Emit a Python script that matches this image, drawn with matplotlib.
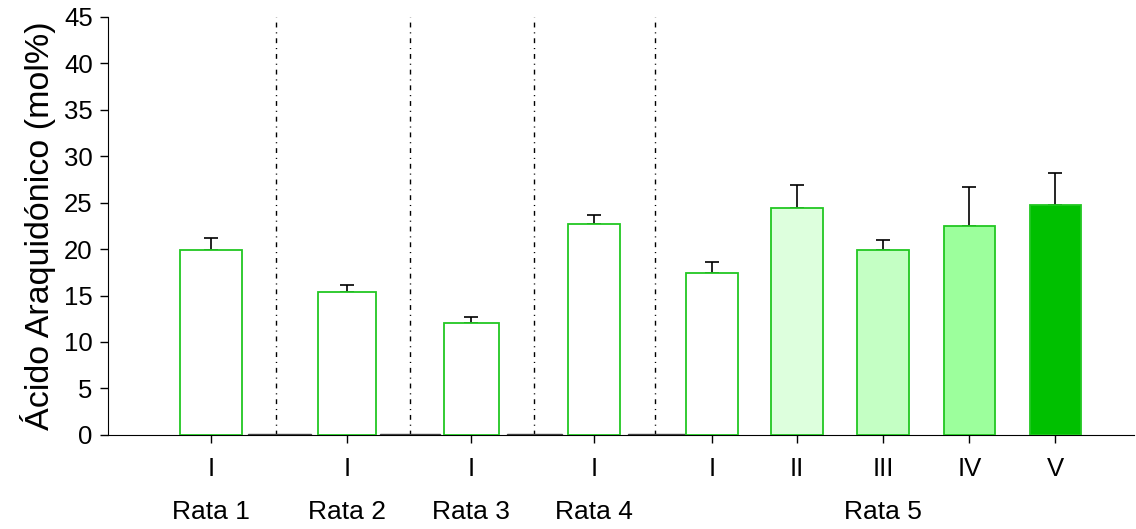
# araquidonico por rata y fraccion
import matplotlib
matplotlib.use('Agg')
from matplotlib import pyplot as plt
from matplotlib import transforms

plt.rcParams['font.family'] = ['Liberation Sans', 'DejaVu Sans']

# valores medios y error (mol%)
fracciones = ['I', 'I', 'I', 'I', 'I', 'II', 'III', 'IV', 'V']
valores = [19.9, 15.4, 12.05, 22.75, 17.4, 24.45, 19.85, 22.45, 24.75]
errores = [1.3, 0.7, 0.6, 0.9, 1.25, 2.4, 1.15, 4.2, 3.45]
ratas = ['Rata 1', 'Rata 2', 'Rata 3', 'Rata 4', 'Rata 5']
vacias = [0.1, 0.1, 0.1, 0.1]

# posiciones en el eje x
pos = [1.20, 2.78, 4.22, 5.65, 7.02, 8.01, 9.01, 10.01, 11.01]
anchos = [0.72, 0.67, 0.64, 0.60, 0.60, 0.60, 0.60, 0.60, 0.60]
rellenos = ['white', 'white', 'white', 'white', 'white',
            '#ddffdd', '#c4ffc4', '#9cff9c', '#00c000']
pos_ratas = [1.20, 2.78, 4.22, 5.65, 9.01]
separadores = [1.95, 3.51, 4.95, 6.36]
pos_vacias = [1.99, 3.51, 4.96, 6.37]
anchos_vacias = [0.73, 0.70, 0.64, 0.66]

fig = plt.figure(figsize=(11.36, 5.29), dpi=100)
ax = fig.add_axes([0.095, 0.178, 0.903, 0.790])

ax.bar(pos_vacias, vacias, width=anchos_vacias, color='none',
       edgecolor='#444444', linewidth=1.0, zorder=2)

ax.bar(pos, valores, width=anchos, color=rellenos, edgecolor='#22c722',
       linewidth=1.3, zorder=3)
ax.errorbar(pos, valores, yerr=[[0] * len(errores), errores], fmt='none',
            ecolor='black', elinewidth=1.2, capsize=4.7, capthick=1.2,
            zorder=2)

for x in separadores:
    ax.plot([x, x], [0, 45], color='black', linewidth=1.0,
            dashes=(3.5, 3.5, 0.8, 3.5), zorder=1)

ax.set_ylim(0, 45)
ax.set_xlim(0, 11.92)
ax.set_yticks(range(0, 46, 5))
ax.set_xticks(pos)
ax.set_xticklabels(fracciones)
ax.tick_params(axis='both', labelsize=18.5, length=6, width=1, direction='out')
ax.tick_params(axis='x', pad=10)
ax.tick_params(axis='y', pad=5)
ax.set_ylabel('Ácido Araquidónico (mol%)', fontsize=24.5, labelpad=6)

for s in ['top', 'right']:
    ax.spines[s].set_visible(False)

trans = transforms.blended_transform_factory(ax.transData, ax.transAxes)
for x, nombre in zip(pos_ratas, ratas):
    ax.text(x, -0.185, nombre, transform=trans, ha='center', va='center',
            fontsize=19)

plt.savefig('out.png', dpi=100)
